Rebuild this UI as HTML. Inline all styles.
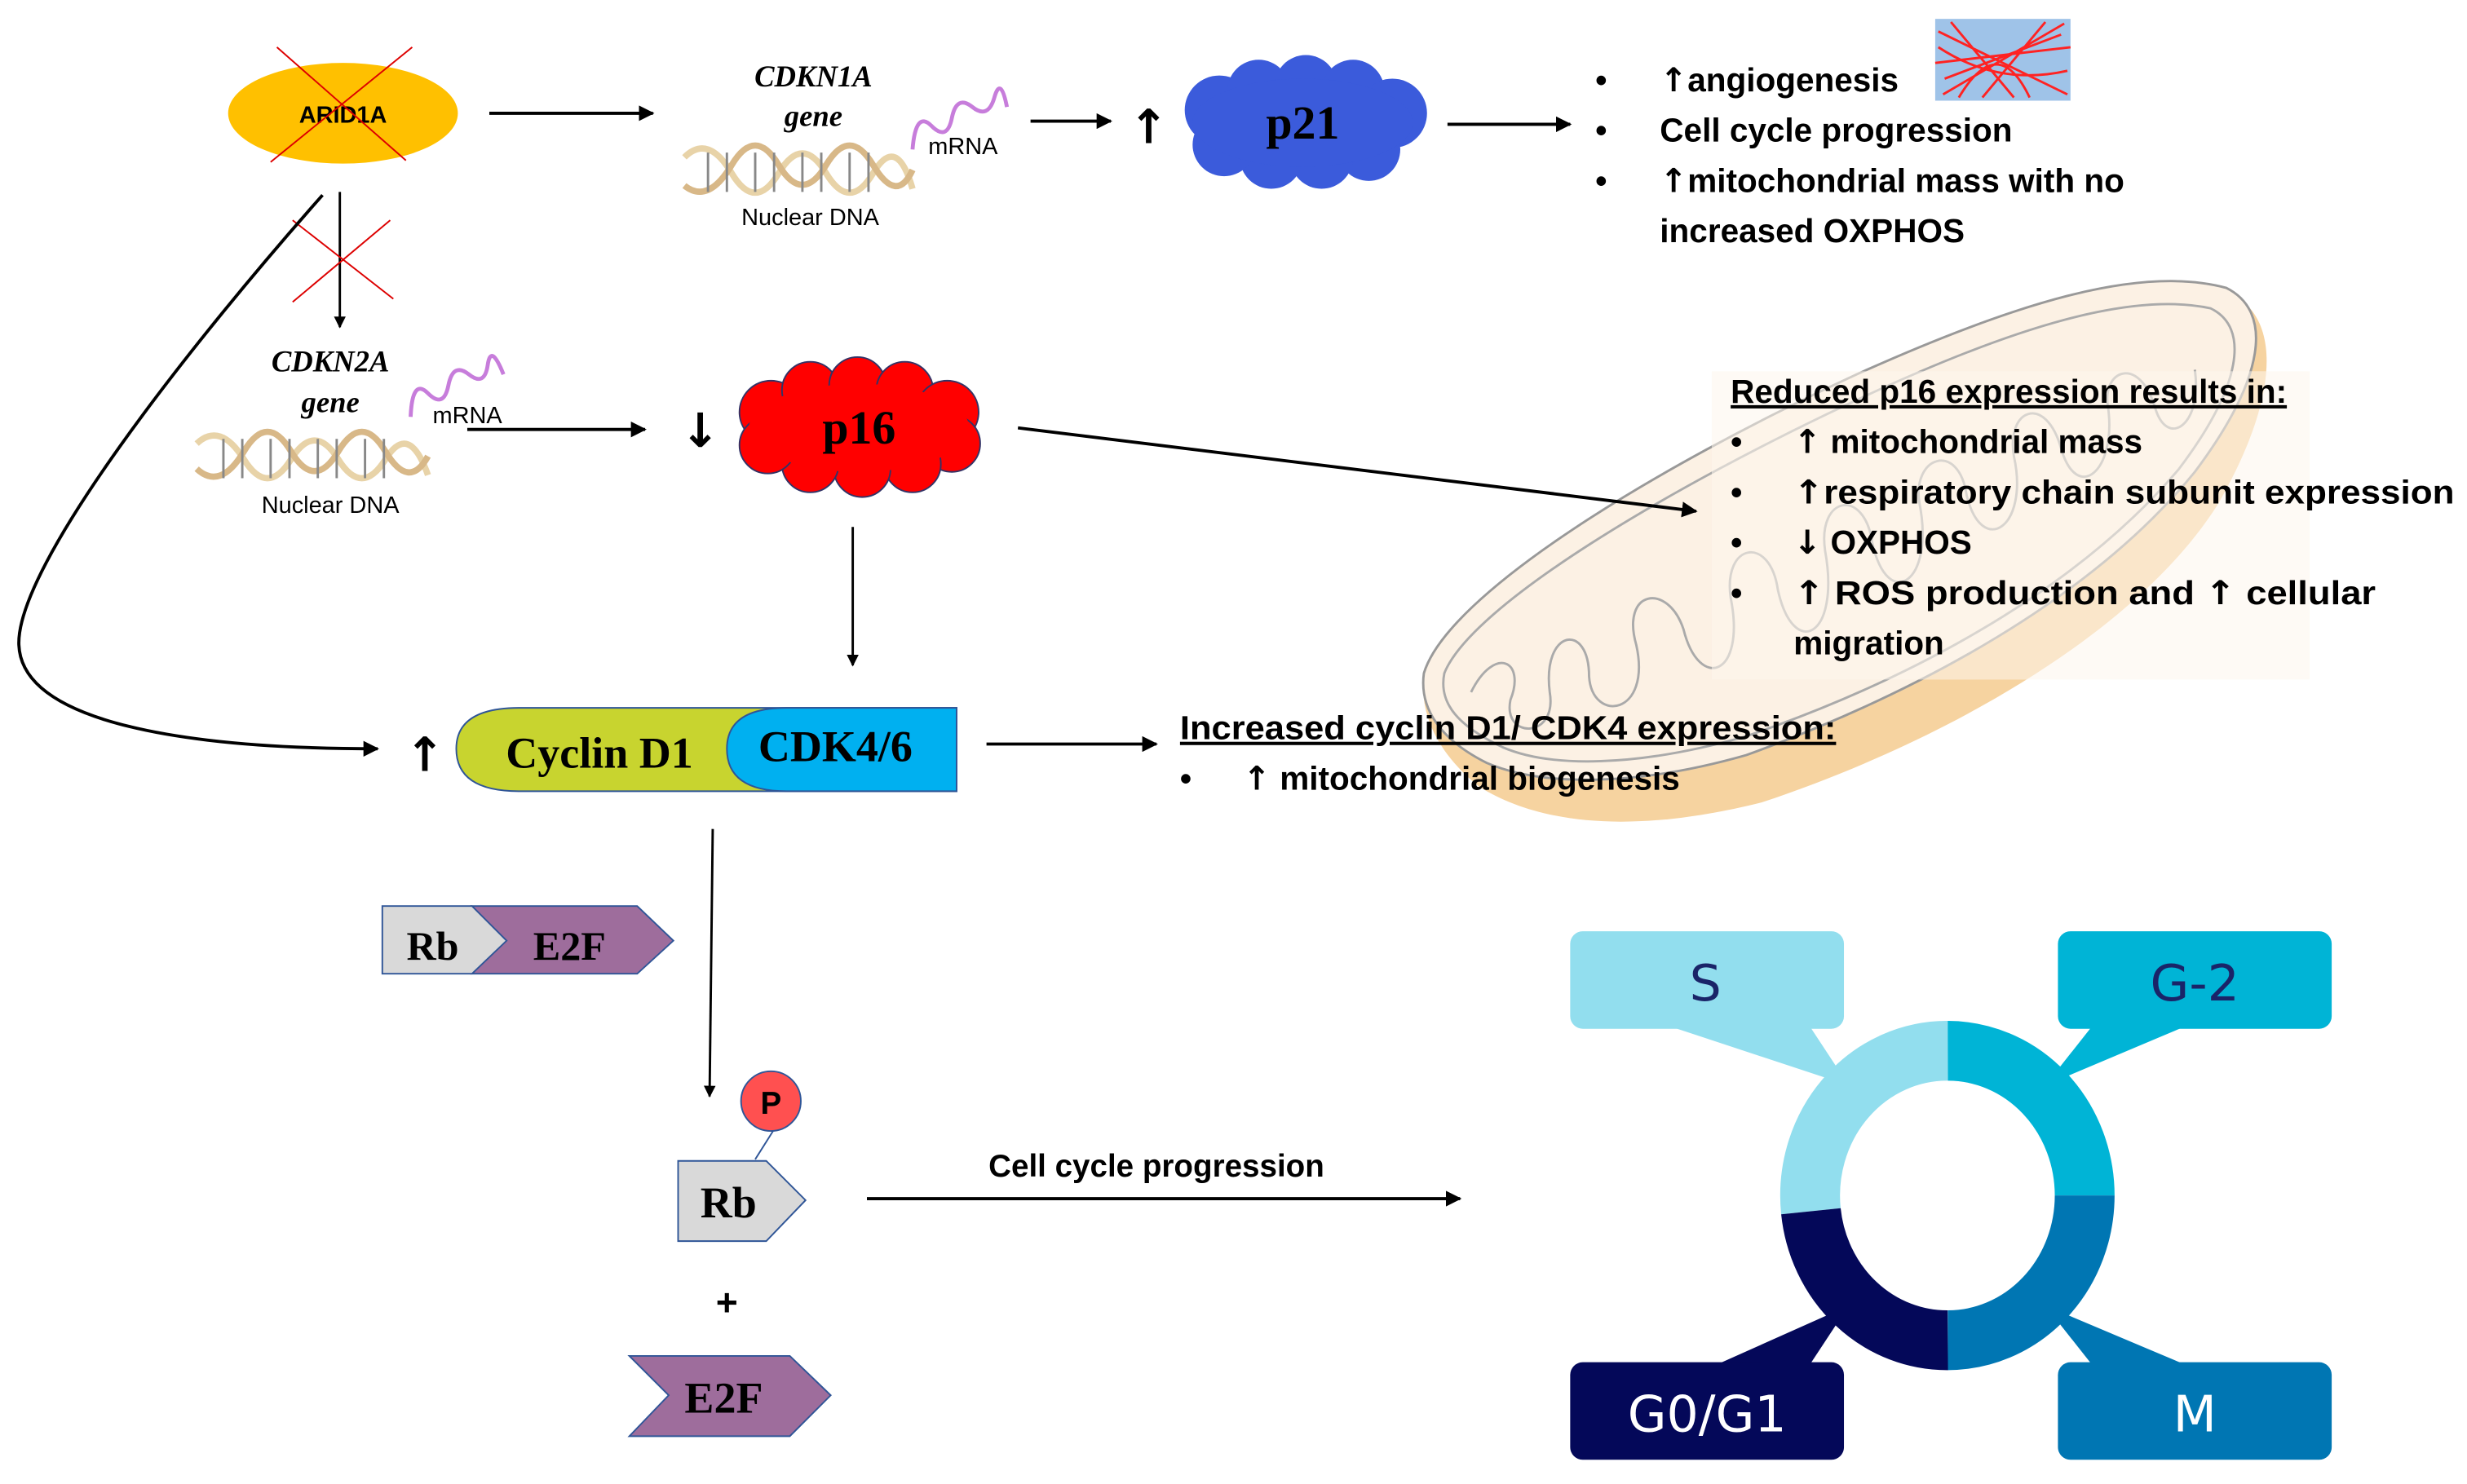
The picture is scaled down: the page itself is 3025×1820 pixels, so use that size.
<!DOCTYPE html>
<html><head><meta charset="utf-8"><style>
html,body{margin:0;padding:0;background:#fff;}
svg{display:block;}
.b{font-family:"Liberation Sans",sans-serif;font-weight:bold;}
.s{font-family:"Liberation Serif",serif;font-weight:bold;}
.a{font-family:"DejaVu Sans",sans-serif;font-weight:bold;}
</style></head><body>
<svg width="3025" height="1820" viewBox="0 0 1568 943.4" preserveAspectRatio="none" xmlns="http://www.w3.org/2000/svg">
<defs>
<marker id="ar" viewBox="0 0 10 10" refX="9" refY="5" markerWidth="5" markerHeight="5" orient="auto"><path d="M0,0L10,5L0,10z" fill="#000"/></marker>
</defs>
<rect width="1568" height="944" fill="#fff"/>

<!-- Mitochondrion -->
<path d="M905,430 C920,380 1050,300 1180,240 C1280,195 1360,170 1415,185 C1450,200 1450,250 1410,320 C1360,400 1240,470 1120,510 C1040,530 980,525 940,500 C915,480 902,455 905,430z" fill="#F6D3A0"/>
<path d="M905,428 C920,378 1050,298 1180,238 C1280,193 1360,168 1415,183 C1445,198 1440,240 1395,300 C1330,380 1220,440 1110,480 C1040,500 980,500 945,485 C915,470 902,450 905,428z" fill="#FCF1E4" stroke="#999" stroke-width="1.5"/>
<path d="M918,428 C935,385 1060,310 1185,252 C1280,208 1355,185 1405,196 C1430,208 1425,245 1385,298 C1320,375 1215,432 1110,468 C1040,488 985,488 955,475 C928,462 914,448 918,428z" fill="none" stroke="#aaa" stroke-width="1.5"/>
<g fill="none" stroke="#aaa" stroke-width="1.5">
<path d="M935,440 C950,410 970,420 960,445 C955,470 990,470 985,440 C980,400 1010,395 1010,430 C1012,460 1050,455 1040,410 C1030,375 1060,370 1070,400 C1080,440 1110,430 1100,380 C1095,345 1125,340 1130,375 C1140,420 1170,405 1160,350 C1155,315 1185,310 1190,345 C1200,390 1230,370 1220,320 C1215,290 1245,280 1250,315 C1260,355 1290,335 1280,290 C1275,260 1300,250 1310,285 C1320,320 1345,300 1340,260 C1335,235 1360,225 1370,260 C1378,285 1400,270 1395,235"/>
</g>
<rect x="1088" y="236" width="380" height="196" fill="#FDF5EC" opacity="0.55"/>

<!-- ARID1A -->
<ellipse cx="218" cy="72" rx="73" ry="32" fill="#FFC000"/>
<text x="218" y="78" class="b" font-size="15" text-anchor="middle">ARID1A</text>
<line x1="176" y1="30" x2="258" y2="102" stroke="#d00" stroke-width="1"/>
<line x1="262" y1="30" x2="172" y2="103" stroke="#d00" stroke-width="1"/>
<line x1="311" y1="72" x2="415" y2="72" stroke="#000" stroke-width="2" marker-end="url(#ar)"/>

<!-- CDKN1A -->
<text x="517" y="55" class="s" font-style="italic" font-size="19" text-anchor="middle">CDKN1A</text>
<text x="517" y="80" class="s" font-style="italic" font-size="19" text-anchor="middle">gene</text>
<g fill="none" stroke-width="4">
<path d="M435,100 Q450,85 465,110 T495,110 T525,110 T555,110 T580,120" stroke="#E8D3A8"/>
<path d="M435,118 Q450,130 465,105 T495,105 T525,105 T555,105 T580,108" stroke="#D8B888"/>
</g>
<g stroke="#888" stroke-width="1.5">
<line x1="450" y1="97" x2="450" y2="122"/><line x1="462" y1="97" x2="462" y2="122"/><line x1="480" y1="97" x2="480" y2="122"/><line x1="492" y1="97" x2="492" y2="122"/><line x1="510" y1="97" x2="510" y2="122"/><line x1="522" y1="97" x2="522" y2="122"/><line x1="540" y1="97" x2="540" y2="122"/><line x1="552" y1="97" x2="552" y2="122"/>
</g>
<text x="515" y="143" font-family="Liberation Sans,sans-serif" font-size="15" text-anchor="middle">Nuclear DNA</text>
<path d="M580,95 Q582,70 592,80 T605,75 T618,68 T632,62 T640,68" fill="none" stroke="#C77DDB" stroke-width="2.5"/>
<text x="590" y="98" font-family="Liberation Sans,sans-serif" font-size="15">mRNA</text>
<line x1="655" y1="77" x2="706" y2="77" stroke="#000" stroke-width="2" marker-end="url(#ar)"/>
<text x="730" y="91" class="a" font-size="30" text-anchor="middle">↑</text>

<!-- p21 -->
<g fill="#3B5BDB">
<circle cx="775" cy="70" r="22"/><circle cx="800" cy="58" r="20"/><circle cx="830" cy="55" r="20"/><circle cx="860" cy="58" r="20"/><circle cx="885" cy="72" r="22"/><circle cx="870" cy="95" r="20"/><circle cx="840" cy="100" r="20"/><circle cx="808" cy="100" r="20"/><circle cx="778" cy="92" r="20"/><ellipse cx="828" cy="78" rx="70" ry="28"/>
</g>
<text x="828" y="88" class="s" font-size="30" text-anchor="middle">p21</text>
<line x1="920" y1="79" x2="998" y2="79" stroke="#000" stroke-width="2" marker-end="url(#ar)"/>

<g class="b" font-size="21">
<text x="1014" y="58">•</text><text x="1014" y="122">•</text><text x="1014" y="90">•</text>
<text x="1055" y="58"><tspan class="a">↑</tspan>angiogenesis</text>
<text x="1055" y="90">Cell cycle progression</text>
<text x="1055" y="122"><tspan class="a">↑</tspan>mitochondrial mass with no</text>
<text x="1055" y="154">increased OXPHOS</text>
</g>
<rect x="1230" y="12" width="86" height="52" fill="#9FC3E8"/>
<g stroke="#f22" stroke-width="1.5" fill="none">
<path d="M1232,20 L1314,60 M1235,60 L1312,15 M1240,14 L1280,62 M1260,62 L1300,14 M1230,40 L1316,30 M1232,30 Q1270,55 1314,45 M1245,62 Q1270,20 1290,62 M1236,50 L1310,22"/>
</g>

<!-- ARID1A down -->
<line x1="216" y1="122" x2="216" y2="208" stroke="#000" stroke-width="1.5" marker-end="url(#ar)"/>
<line x1="186" y1="140" x2="250" y2="190" stroke="#d00" stroke-width="1"/>
<line x1="248" y1="140" x2="186" y2="192" stroke="#d00" stroke-width="1"/>
<path d="M205,124 C120,220 10,360 12,410 C14,460 120,476 240,476" fill="none" stroke="#000" stroke-width="2" marker-end="url(#ar)"/>

<!-- CDKN2A -->
<text x="210" y="236" class="s" font-style="italic" font-size="19" text-anchor="middle">CDKN2A</text>
<text x="210" y="262" class="s" font-style="italic" font-size="19" text-anchor="middle">gene</text>
<g fill="none" stroke-width="4">
<path d="M125,282 Q140,268 155,292 T185,292 T215,292 T245,292 T272,302" stroke="#E8D3A8"/>
<path d="M125,298 Q140,312 155,287 T185,287 T215,287 T245,287 T272,290" stroke="#D8B888"/>
</g>
<g stroke="#888" stroke-width="1.5">
<line x1="142" y1="279" x2="142" y2="304"/><line x1="154" y1="279" x2="154" y2="304"/><line x1="172" y1="279" x2="172" y2="304"/><line x1="184" y1="279" x2="184" y2="304"/><line x1="202" y1="279" x2="202" y2="304"/><line x1="214" y1="279" x2="214" y2="304"/><line x1="232" y1="279" x2="232" y2="304"/><line x1="244" y1="279" x2="244" y2="304"/>
</g>
<text x="210" y="326" font-family="Liberation Sans,sans-serif" font-size="15" text-anchor="middle">Nuclear DNA</text>
<path d="M261,265 Q262,240 272,250 T285,245 T298,238 T310,232 T320,238" fill="none" stroke="#C77DDB" stroke-width="2.5"/>
<text x="275" y="269" font-family="Liberation Sans,sans-serif" font-size="15">mRNA</text>
<line x1="297" y1="273" x2="410" y2="273" stroke="#000" stroke-width="2" marker-end="url(#ar)"/>
<text x="445" y="284" class="a" font-size="30" text-anchor="middle">↓</text>

<!-- p16 -->
<g fill="#FF0000" stroke="#333366" stroke-width="1">
<circle cx="490" cy="262" r="20"/><circle cx="515" cy="248" r="18"/><circle cx="545" cy="245" r="18"/><circle cx="575" cy="248" r="18"/><circle cx="602" cy="262" r="20"/><circle cx="605" cy="282" r="18"/><circle cx="580" cy="295" r="18"/><circle cx="548" cy="298" r="18"/><circle cx="515" cy="295" r="18"/><circle cx="488" cy="283" r="18"/>
</g>
<ellipse cx="546" cy="272" rx="70" ry="28" fill="#FF0000"/>
<text x="546" y="282" class="s" font-size="30" text-anchor="middle">p16</text>
<line x1="647" y1="272" x2="1078" y2="325" stroke="#000" stroke-width="2" marker-end="url(#ar)"/>
<line x1="542" y1="335" x2="542" y2="423" stroke="#000" stroke-width="1.5" marker-end="url(#ar)"/>

<g class="b" font-size="21">
<text x="1100" y="256" text-decoration="underline">Reduced p16 expression results in:</text>
<text x="1100" y="288">•</text><text x="1100" y="320">•</text><text x="1100" y="352">•</text><text x="1100" y="384">•</text>
<text x="1140" y="288"><tspan class="a">↑</tspan> mitochondrial mass</text>
<text x="1140" y="320" textLength="420" lengthAdjust="spacingAndGlyphs"><tspan class="a">↑</tspan>respiratory chain subunit expression</text>
<text x="1140" y="352"><tspan class="a">↓</tspan> OXPHOS</text>
<text x="1140" y="384" textLength="370" lengthAdjust="spacingAndGlyphs"><tspan class="a">↑</tspan>  ROS production and <tspan class="a">↑</tspan> cellular</text>
<text x="1140" y="416">migration</text>
</g>

<!-- Cyclin D1 / CDK4/6 -->
<text x="270" y="490" class="a" font-size="30" text-anchor="middle">↑</text>
<path d="M330,450 L608,450 L608,503 L330,503 Q290,503 290,476 Q290,450 330,450z" fill="#C8D42F" stroke="#2F5597" stroke-width="1"/>
<path d="M500,450 L608,450 L608,503 L500,503 Q462,503 462,476 Q462,450 500,450z" fill="#00B0F0" stroke="#2F5597" stroke-width="1"/>
<text x="381" y="488" class="s" font-size="28" text-anchor="middle">Cyclin D1</text>
<text x="531" y="484" class="s" font-size="28" text-anchor="middle">CDK4/6</text>
<line x1="627" y1="473" x2="735" y2="473" stroke="#000" stroke-width="2" marker-end="url(#ar)"/>
<g class="b" font-size="21">
<text x="750" y="470" text-decoration="underline" textLength="417" lengthAdjust="spacingAndGlyphs">Increased cyclin D1/ CDK4 expression:</text>
<text x="750" y="502">•</text>
<text x="790" y="502"><tspan class="a">↑</tspan> mitochondrial biogenesis</text>
</g>

<!-- Rb E2F complex -->
<path d="M300,576 L405,576 L428,598 L405,619 L300,619 L320,598z" fill="#9E6D9C" stroke="#2F5597" stroke-width="1"/>
<path d="M243,576 L300,576 L322,598 L300,619 L243,619z" fill="#D9D9D9" stroke="#2F5597" stroke-width="1"/>
<text x="275" y="610" class="s" font-size="26" text-anchor="middle">Rb</text>
<text x="362" y="610" class="s" font-size="26" text-anchor="middle">E2F</text>

<line x1="453" y1="527" x2="451" y2="697" stroke="#000" stroke-width="1.5" marker-end="url(#ar)"/>
<line x1="480" y1="737" x2="492" y2="718" stroke="#2F5597" stroke-width="1"/>
<circle cx="490" cy="700" r="19" fill="#FF5050" stroke="#2F5597" stroke-width="1"/>
<text x="490" y="708" class="b" font-size="20" text-anchor="middle">P</text>
<path d="M431,738 L487,738 L512,763 L487,789 L431,789z" fill="#D9D9D9" stroke="#2F5597" stroke-width="1"/>
<text x="463" y="774" class="s" font-size="28" text-anchor="middle">Rb</text>
<text x="462" y="836" class="b" font-size="24" text-anchor="middle">+</text>
<path d="M400,862 L502,862 L528,887 L502,913 L400,913 L425,887z" fill="#9E6D9C" stroke="#2F5597" stroke-width="1"/>
<text x="460" y="898" class="s" font-size="28" text-anchor="middle">E2F</text>

<text x="735" y="748" class="b" font-size="20" text-anchor="middle">Cell cycle progression</text>
<line x1="551" y1="762" x2="928" y2="762" stroke="#000" stroke-width="2" marker-end="url(#ar)"/>

<!-- Cell cycle -->
<path d="M1060,652 L1150,652 L1175,690 z" fill="#92DEEE"/>
<rect x="998" y="592" width="174" height="62" rx="8" fill="#92DEEE"/>
<path d="M1330,652 L1390,652 L1300,690 z" fill="#00B4D6"/>
<rect x="1308" y="592" width="174" height="62" rx="8" fill="#00B4D6"/>
<path d="M1090,868 L1150,868 L1175,830 z" fill="#040859"/>
<rect x="998" y="866" width="174" height="62" rx="8" fill="#040859"/>
<path d="M1330,868 L1390,868 L1300,830 z" fill="#0076B3"/>
<rect x="1308" y="866" width="174" height="62" rx="8" fill="#0076B3"/>
<g fill="none" stroke-width="38">
<path d="M1151,770 A87,92 0 0 1 1238,668" stroke="#92DEEE"/>
<path d="M1238,668 A87,92 0 0 1 1325,760" stroke="#00B4D6"/>
<path d="M1325,760 A87,92 0 0 1 1238,852" stroke="#0076B3"/>
<path d="M1238,852 A87,92 0 0 1 1151,770" stroke="#040859"/>
</g>
<g font-family="DejaVu Sans,sans-serif" font-size="32" text-anchor="middle">
<text x="1084" y="636" fill="#1A2468">S</text>
<text x="1395" y="636" fill="#1A2468">G-2</text>
<text x="1085" y="910" fill="#fff">G0/G1</text>
<text x="1395" y="910" fill="#fff">M</text>
</g>
</svg>
</body></html>
